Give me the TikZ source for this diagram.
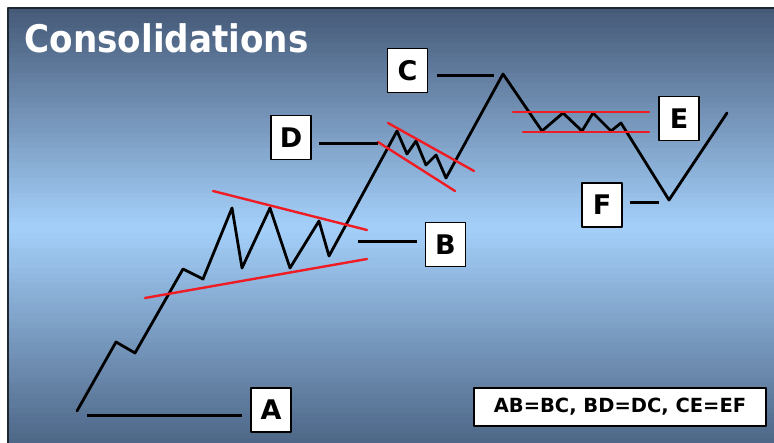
\documentclass[tikz,border=0pt]{standalone}
\usepackage{fontspec}
\setmainfont{DejaVu Sans}
\newfontfamily\titlefont{DejaVu Sans Condensed}
\definecolor{slatetop}{HTML}{465A78}
\definecolor{skymid}{HTML}{A3CEF8}
\definecolor{slatebottom}{HTML}{4A6282}
\definecolor{framedark}{HTML}{1E2833}
\definecolor{channelred}{HTML}{F01C24}

\begin{document}
\begin{tikzpicture}[
  x=1pt,
  y=-1pt,
  line join=round,
  line cap=round,
  price/.style={draw=black,line width=2.8pt},
  level/.style={draw=black,line width=3pt,line cap=butt},
  channel/.style={draw=channelred,line width=2.4pt},
  lbl/.style={draw=black,line width=1.2pt,fill=white,minimum width=40pt,minimum height=44pt,
    inner sep=0pt,font=\bfseries\fontsize{27}{27}\selectfont},
  legend/.style={draw=black,line width=1.2pt,fill=white,minimum width=292pt,minimum height=38pt,
    inner sep=0pt,font=\bfseries\fontsize{19.5}{19.5}\selectfont}
]
  \useasboundingbox (0,0) rectangle (774,443);
  \fill[white] (0,0) rectangle (774,443);

  % Backdrop: dark slate at both edges, pale sky in the middle (thin bands).
  \foreach \i in {0,...,43} {
    \pgfmathtruncatemacro\mixup{100-\i*100/43}
    \fill[slatetop!\mixup!skymid] (8,{8+\i*5}) rectangle (780,{13.6+\i*5});
  }
  \foreach \i in {0,...,44} {
    \pgfmathtruncatemacro\mixdown{\i*100/44}
    \fill[slatebottom!\mixdown!skymid] (8,{228+\i*5}) rectangle (780,{233.6+\i*5});
  }
  \draw[framedark,line width=2.4pt,line cap=butt] (780,8) -- (8,8) -- (8,450);

  \node[anchor=base west,text=white,font=\titlefont\bfseries\fontsize{38}{38}\selectfont] (title) at (21,53) {Consolidations};

  % Price swing with the three pauses.
  \draw[price] plot coordinates {
    (77,411) (116,342) (135,353) (183,269) (203,279)
    (232,208) (242,268) (270,208) (290,268) (319,221) (329,256)
    (397,131) (407,154) (416,141) (426,165) (436,155) (446,178)
    (503,74) (542,131) (563,113) (582,131) (593,113) (611,131) (621,123)
    (669,200) (727,113)};

  % Consolidation boundaries.
  \coordinate (triTopL) at (213,191);  \coordinate (triTopR) at (367,230);
  \coordinate (triLowL) at (145,298);  \coordinate (triLowR) at (367,259);
  \coordinate (flagTopL) at (388,123); \coordinate (flagTopR) at (474,171);
  \coordinate (flagLowL) at (378,142); \coordinate (flagLowR) at (455,191);
  \coordinate (boxTopL) at (513,112);  \coordinate (boxTopR) at (649,112);
  \coordinate (boxLowL) at (523,132);  \coordinate (boxLowR) at (649,132);
  \foreach \s in {triTop,triLow,flagTop,flagLow,boxTop,boxLow} {
    \draw[channel] (\s L) -- (\s R);
  }

  % Price levels and their letters.
  \coordinate (levA0) at (87,416);  \coordinate (levA1) at (242,416);
  \coordinate (levB0) at (358,242); \coordinate (levB1) at (417,242);
  \coordinate (levC0) at (437,76);  \coordinate (levC1) at (494,76);
  \coordinate (levD0) at (319,144); \coordinate (levD1) at (378,144);
  \coordinate (levF0) at (630,203); \coordinate (levF1) at (659,203);
  \foreach \p in {A,B,C,D,F} {
    \draw[level] (lev\p0) -- (lev\p1);
  }

  \node[lbl] (ptA) at (271,410) {A};
  \node[lbl] (ptB) at (445.5,244.5) {B};
  \node[lbl] (ptC) at (407.5,70.5) {C};
  \node[lbl] (ptD) at (291,137.5) {D};
  \node[lbl] (ptE) at (679,118.5) {E};
  \node[lbl] (ptF) at (602,205) {F};

  \node[legend] (rule) at (620,407) {AB=BC, BD=DC, CE=EF};
\end{tikzpicture}
\end{document}
